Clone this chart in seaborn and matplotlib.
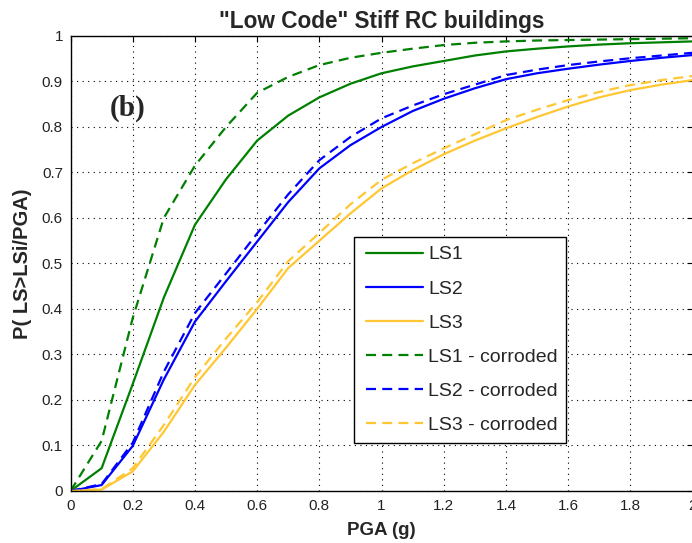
import matplotlib
matplotlib.use("Agg")
import matplotlib.pyplot as plt
import seaborn as sns
import pandas as pd
from matplotlib.legend_handler import HandlerLine2D

# ---- data ----
pga = [0.0, 0.1, 0.2, 0.3, 0.4, 0.5, 0.6, 0.7, 0.8, 0.9, 1.0,
       1.1, 1.2, 1.3, 1.4, 1.5, 1.6, 1.7, 1.8, 1.9, 2.0]
ls1 = [0, 0.05, 0.235, 0.425, 0.585, 0.685, 0.77, 0.825, 0.865, 0.895, 0.918,
       0.933, 0.945, 0.957, 0.966, 0.972, 0.977, 0.981, 0.984, 0.986, 0.988]
ls2 = [0, 0.013, 0.099, 0.245, 0.372, 0.461, 0.548, 0.635, 0.709, 0.76, 0.80,
       0.835, 0.862, 0.885, 0.905, 0.918, 0.928, 0.937, 0.945, 0.952, 0.958]
ls3 = [0, 0.003, 0.043, 0.13, 0.233, 0.315, 0.40, 0.49, 0.55, 0.61, 0.665,
       0.705, 0.74, 0.77, 0.797, 0.822, 0.845, 0.865, 0.881, 0.893, 0.903]
ls1_c = [0, 0.11, 0.38, 0.60, 0.715, 0.80, 0.875, 0.91, 0.936, 0.952, 0.963,
         0.972, 0.980, 0.985, 0.988, 0.990, 0.991, 0.992, 0.993, 0.994, 0.995]
ls2_c = [0, 0.015, 0.106, 0.262, 0.391, 0.478, 0.566, 0.652, 0.727, 0.778, 0.819,
         0.847, 0.872, 0.893, 0.914, 0.926, 0.936, 0.944, 0.951, 0.957, 0.963]
ls3_c = [0, 0.004, 0.05, 0.145, 0.25, 0.335, 0.415, 0.505, 0.567, 0.63, 0.684,
         0.72, 0.753, 0.784, 0.815, 0.838, 0.859, 0.877, 0.892, 0.903, 0.912]

labels = ["LS1", "LS2", "LS3", "LS1 - corroded", "LS2 - corroded", "LS3 - corroded"]
series = [ls1, ls2, ls3, ls1_c, ls2_c, ls3_c]
colors = ["#008000", "#0000ff", "#ffc733", "#008000", "#0000ff", "#ffc733"]
dashed = [False, False, False, True, True, True]

xticks = [0, 0.2, 0.4, 0.6, 0.8, 1.0, 1.2, 1.4, 1.6, 1.8, 2.0]
xticklabels = ["0", "0.2", "0.4", "0.6", "0.8", "1", "1.2", "1.4", "1.6", "1.8", "2"]
yticks = [0, 0.1, 0.2, 0.3, 0.4, 0.5, 0.6, 0.7, 0.8, 0.9, 1.0]
yticklabels = ["0", "0.1", "0.2", "0.3", "0.4", "0.5", "0.6", "0.7", "0.8", "0.9", "1"]

df = pd.DataFrame({"pga": pga})
for lab, vals in zip(labels, series):
    df[lab] = vals

sns.set_style("white")
plt.rcParams["font.family"] = ["Liberation Sans", "DejaVu Sans"]

fig = plt.figure(figsize=(6.92, 5.43), dpi=100)
ax = fig.add_axes([0.1019, 0.0958, 0.899, 0.838])

for lab, col, ds in zip(labels, colors, dashed):
    sns.lineplot(data=df, x="pga", y=lab, ax=ax, color=col, lw=1.6,
                 label=lab, linestyle="--" if ds else "-")
for line, ds in zip(ax.get_lines(), dashed):
    if ds:
        line.set_dashes((4.5, 2.8))

ax.set_xlim(0, 2)
ax.set_ylim(0, 1)
ax.set_xticks(xticks)
ax.set_xticklabels(xticklabels)
ax.set_yticks(yticks)
ax.set_yticklabels(yticklabels)
ax.tick_params(direction="in", length=4, width=0.8, top=True, right=True,
               labelsize=11, labelcolor="#222222", color="black", pad=5.5)
ax.grid(True, color="black", linestyle=(0, (1, 4)), linewidth=0.8)
for sp in ax.spines.values():
    sp.set_visible(True)
    sp.set_color("black")
    sp.set_linewidth(1.0)

ax.set_title('"Low Code" Stiff RC buildings', fontsize=16.3, fontweight="bold", pad=6)
ax.set_xlabel("PGA (g)", fontsize=13.5, fontweight="bold", labelpad=6.5)
ax.set_ylabel("P( LS>LSi/PGA)", fontsize=14.5, fontweight="bold", labelpad=7)

ax.text(0.185, 0.842, "(b)", fontsize=21, fontweight="bold",
        family=["Liberation Serif", "DejaVu Serif"], ha="center", va="center")

handles, labs = ax.get_legend_handles_labels()
leg = ax.legend(handles, labs, loc="upper left", bbox_to_anchor=(0.456, 0.558),
                fontsize=14, frameon=True, fancybox=False, framealpha=1,
                edgecolor="black", borderpad=0.45, labelspacing=0.85,
                handlelength=3.1, handletextpad=0.25, borderaxespad=0,
                handler_map={h: HandlerLine2D(xpad=0.15) for h in handles})
leg.get_frame().set_linewidth(1.0)

fig.savefig("out.png", dpi=100)
